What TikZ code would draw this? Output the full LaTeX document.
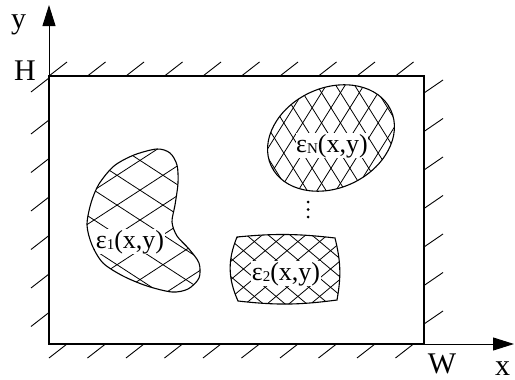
\documentclass[tikz,border=0pt]{standalone}
\usepackage{fontspec}
\setmainfont{Liberation Serif}
\usetikzlibrary{arrows.meta}
\begin{document}
\begin{tikzpicture}[x=1pt,y=-1pt,
  wall/.style={line width=2.4pt},
  axis/.style={line width=1pt,-{Triangle[length=21pt,width=13pt]}},
  hatchmark/.style={line width=0.9pt},
  hatchline/.style={line width=0.8pt},
  outline/.style={line width=1.1pt},
  axlabel/.style={font=\fontsize{30}{30}\selectfont, inner sep=0pt, anchor=base},
  fieldlabel/.style={font=\fontsize{26}{26}\selectfont, fill=white, inner sep=0.6pt, anchor=base}
]
\useasboundingbox (0,0) rectangle (515,380);

% frame and axes
\coordinate (O) at (49,344);
\coordinate (TL) at (49,76);
\coordinate (TR) at (424,76);
\coordinate (BR) at (424,344);
\coordinate (ytip) at (49,5);
\coordinate (xtip) at (514,344);

\draw[axis] (O) -- (ytip);
\draw[axis] (O) -- (xtip);

% wall hatch marks
\foreach \k in {0,...,9} \draw[hatchmark] (49+\k*38.5,76) -- ++(18,-14);
\foreach \k in {0,...,9} \draw[hatchmark] (67+\k*38.5,344) -- ++(-18,14);
\foreach \yy in {78,120,158.5,197,235.5,274,312.5} \draw[hatchmark] (49,\yy) -- ++(-18,14);
\foreach \k in {0,...,6} \draw[hatchmark] (424,93+\k*38.5) -- ++(19,-13);

\draw[wall] (O) -- (TL) -- (TR) -- (BR) -- cycle;

\node[axlabel] (ylab) at (18.5,28.5) {y};
\node[axlabel] (Hlab) at (25,80) {H};
\node[axlabel] (Wlab) at (442,373) {W};
\node[axlabel] (xlab) at (502.5,375) {x};

% ---------- region 1 (kidney) ----------
\begin{scope}
  \clip plot[smooth cycle] coordinates {(157,149) (170,153) (177,165) (178,183) (175,205) (172,222) (177,236) (189,249) (199,263) (199,278) (188,289) (172,292) (147,286) (123,276) (103,263) (92,245) (87,225) (91,203) (99,184) (114,166) (134,155)};
  \begin{scope}[shift={(140,220)}, rotate=33]
    \foreach \i in {-7,...,7} \draw[hatchline] (-200,\i*25) -- (200,\i*25);
  \end{scope}
  \begin{scope}[shift={(140,220)}, rotate=-33]
    \foreach \i in {-7,...,7} \draw[hatchline] (-200,\i*25) -- (200,\i*25);
  \end{scope}
\end{scope}

% ---------- region 2 (rounded box) ----------
\begin{scope}
  \clip (237,237) to[bend left=6] (335,238) to[bend left=12] (337,300) to[bend left=7] (238,301) to[bend left=23] cycle;
  \begin{scope}[shift={(287,269)}, rotate=40]
    \foreach \i in {-9,...,9} \draw[hatchline] (-150,\i*14) -- (150,\i*14);
  \end{scope}
  \begin{scope}[shift={(287,269)}, rotate=-40]
    \foreach \i in {-9,...,9} \draw[hatchline] (-150,\i*14) -- (150,\i*14);
  \end{scope}
\end{scope}

% ---------- region N (ellipse) ----------
\begin{scope}
  \clip[rotate around={25:(331,138)}] (331,138) ellipse [x radius=66, y radius=50];
  \begin{scope}[shift={(331,138)}, rotate=58]
    \foreach \i in {-10,...,10} \draw[hatchline] (-200,\i*16) -- (200,\i*16);
  \end{scope}
  \begin{scope}[shift={(331,138)}, rotate=-58]
    \foreach \i in {-10,...,10} \draw[hatchline] (-200,\i*16) -- (200,\i*16);
  \end{scope}
\end{scope}

% labels
\node[fieldlabel] (e1) at (130,248) {ε\raisebox{-1.5pt}{\fontsize{15}{15}\selectfont 1}(x,y)};
\node[fieldlabel] (e2) at (286,280) {ε\raisebox{-1.5pt}{\fontsize{15}{15}\selectfont 2}(x,y)};
\node[fieldlabel] (eN) at (332,152) {ε\raisebox{-1.5pt}{\fontsize{15}{15}\selectfont N}(x,y)};

% outlines
\draw[outline] plot[smooth cycle] coordinates {(157,149) (170,153) (177,165) (178,183) (175,205) (172,222) (177,236) (189,249) (199,263) (199,278) (188,289) (172,292) (147,286) (123,276) (103,263) (92,245) (87,225) (91,203) (99,184) (114,166) (134,155)};
\draw[outline] (237,237) to[bend left=6] (335,238) to[bend left=12] (337,300) to[bend left=7] (238,301) to[bend left=23] cycle;
\draw[outline, rotate around={25:(331,138)}] (331,138) ellipse [x radius=66, y radius=50];

% vertical dots
\fill (308,202) circle (1.5);
\fill (308,209.5) circle (1.5);
\fill (308,217) circle (1.5);
\end{tikzpicture}
\end{document}
